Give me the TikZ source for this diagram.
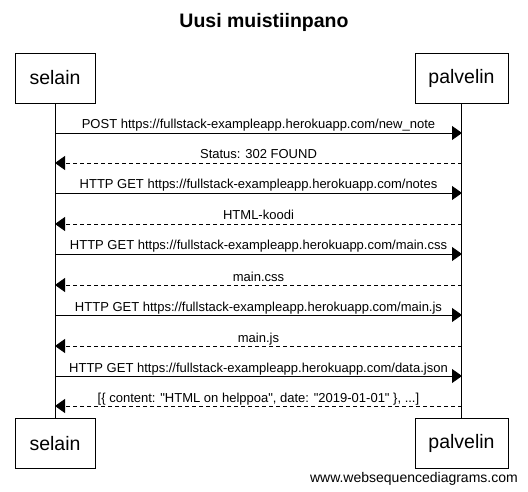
\documentclass[tikz,border=0pt]{standalone}
\usepackage{fontspec}
\setmainfont{Liberation Sans}
\newfontfamily\rawarial{Liberation Sans}
\usetikzlibrary{arrows.meta}
\newcommand{\dq}{{\rawarial\symbol{34}}}
\begin{document}
\begin{tikzpicture}[x=1pt,y=-1pt,
  actor/.style={draw,line width=0.8pt,minimum width=80pt,minimum height=50pt,inner sep=0pt,font=\fontsize{19.5}{22}\selectfont},
  req/.style={line width=0.8pt,-{Triangle[length=10pt,width=14pt]}},
  resp/.style={req,dashed,dash pattern=on 4pt off 3pt},
  lbl/.style={font=\fontsize{13}{15}\selectfont,inner sep=0pt,anchor=base},
  life/.style={line width=0.8pt}]
\useasboundingbox (0,0) rectangle (528,492);
\node[font=\bfseries\fontsize{19.5}{22}\selectfont] (title) at (264,22) {Uusi muistiinpano};
\node[actor] (s1) at (55,78) {selain};
\node[actor,minimum width=93pt] (p1) at (461.5,78) {palvelin};
\node[actor] (s2) at (55,443.5) {selain};
\node[actor,minimum width=93pt] (p2) at (461.5,443.5) {palvelin};
\draw[life] (s1) -- (s2);
\draw[life] (p1) -- (p2);
\foreach \i/\y in {1/133,2/163,3/193,4/224,5/254,6/285,7/315,8/346,9/376,10/406}{
  \coordinate (a\i) at (55,\y);
  \coordinate (b\i) at (462,\y);
}
\foreach \i in {1,3,5,7,9}{\draw[req] (a\i) -- (b\i);}
\foreach \i in {2,4,6,8,10}{\draw[resp] (b\i) -- (a\i);}
\node[lbl] (l1) at (258.5,129) {POST https://fullstack-exampleapp.herokuapp.com/new\_note};
\node[lbl] (l2) at (258.5,159) {Status: 302 FOUND};
\node[lbl] (l3) at (258.5,189) {HTTP GET https://fullstack-exampleapp.herokuapp.com/notes};
\node[lbl] (l4) at (258.5,220) {HTML-koodi};
\node[lbl] (l5) at (258.5,250) {HTTP GET https://fullstack-exampleapp.herokuapp.com/main.css};
\node[lbl] (l6) at (258.5,281) {main.css};
\node[lbl] (l7) at (258.5,311) {HTTP GET https://fullstack-exampleapp.herokuapp.com/main.js};
\node[lbl] (l8) at (258.5,342) {main.js};
\node[lbl] (l9) at (258.5,372) {HTTP GET https://fullstack-exampleapp.herokuapp.com/data.json};
\node[lbl] (l10) at (258.5,402) {[\{ content: \dq HTML on helppoa\dq, date: \dq 2019-01-01\dq\ \}, ...]};
\node[font=\fontsize{14}{16}\selectfont,anchor=base east,inner sep=0pt] (wm) at (518,482) {www.websequencediagrams.com};
\end{tikzpicture}
\end{document}
